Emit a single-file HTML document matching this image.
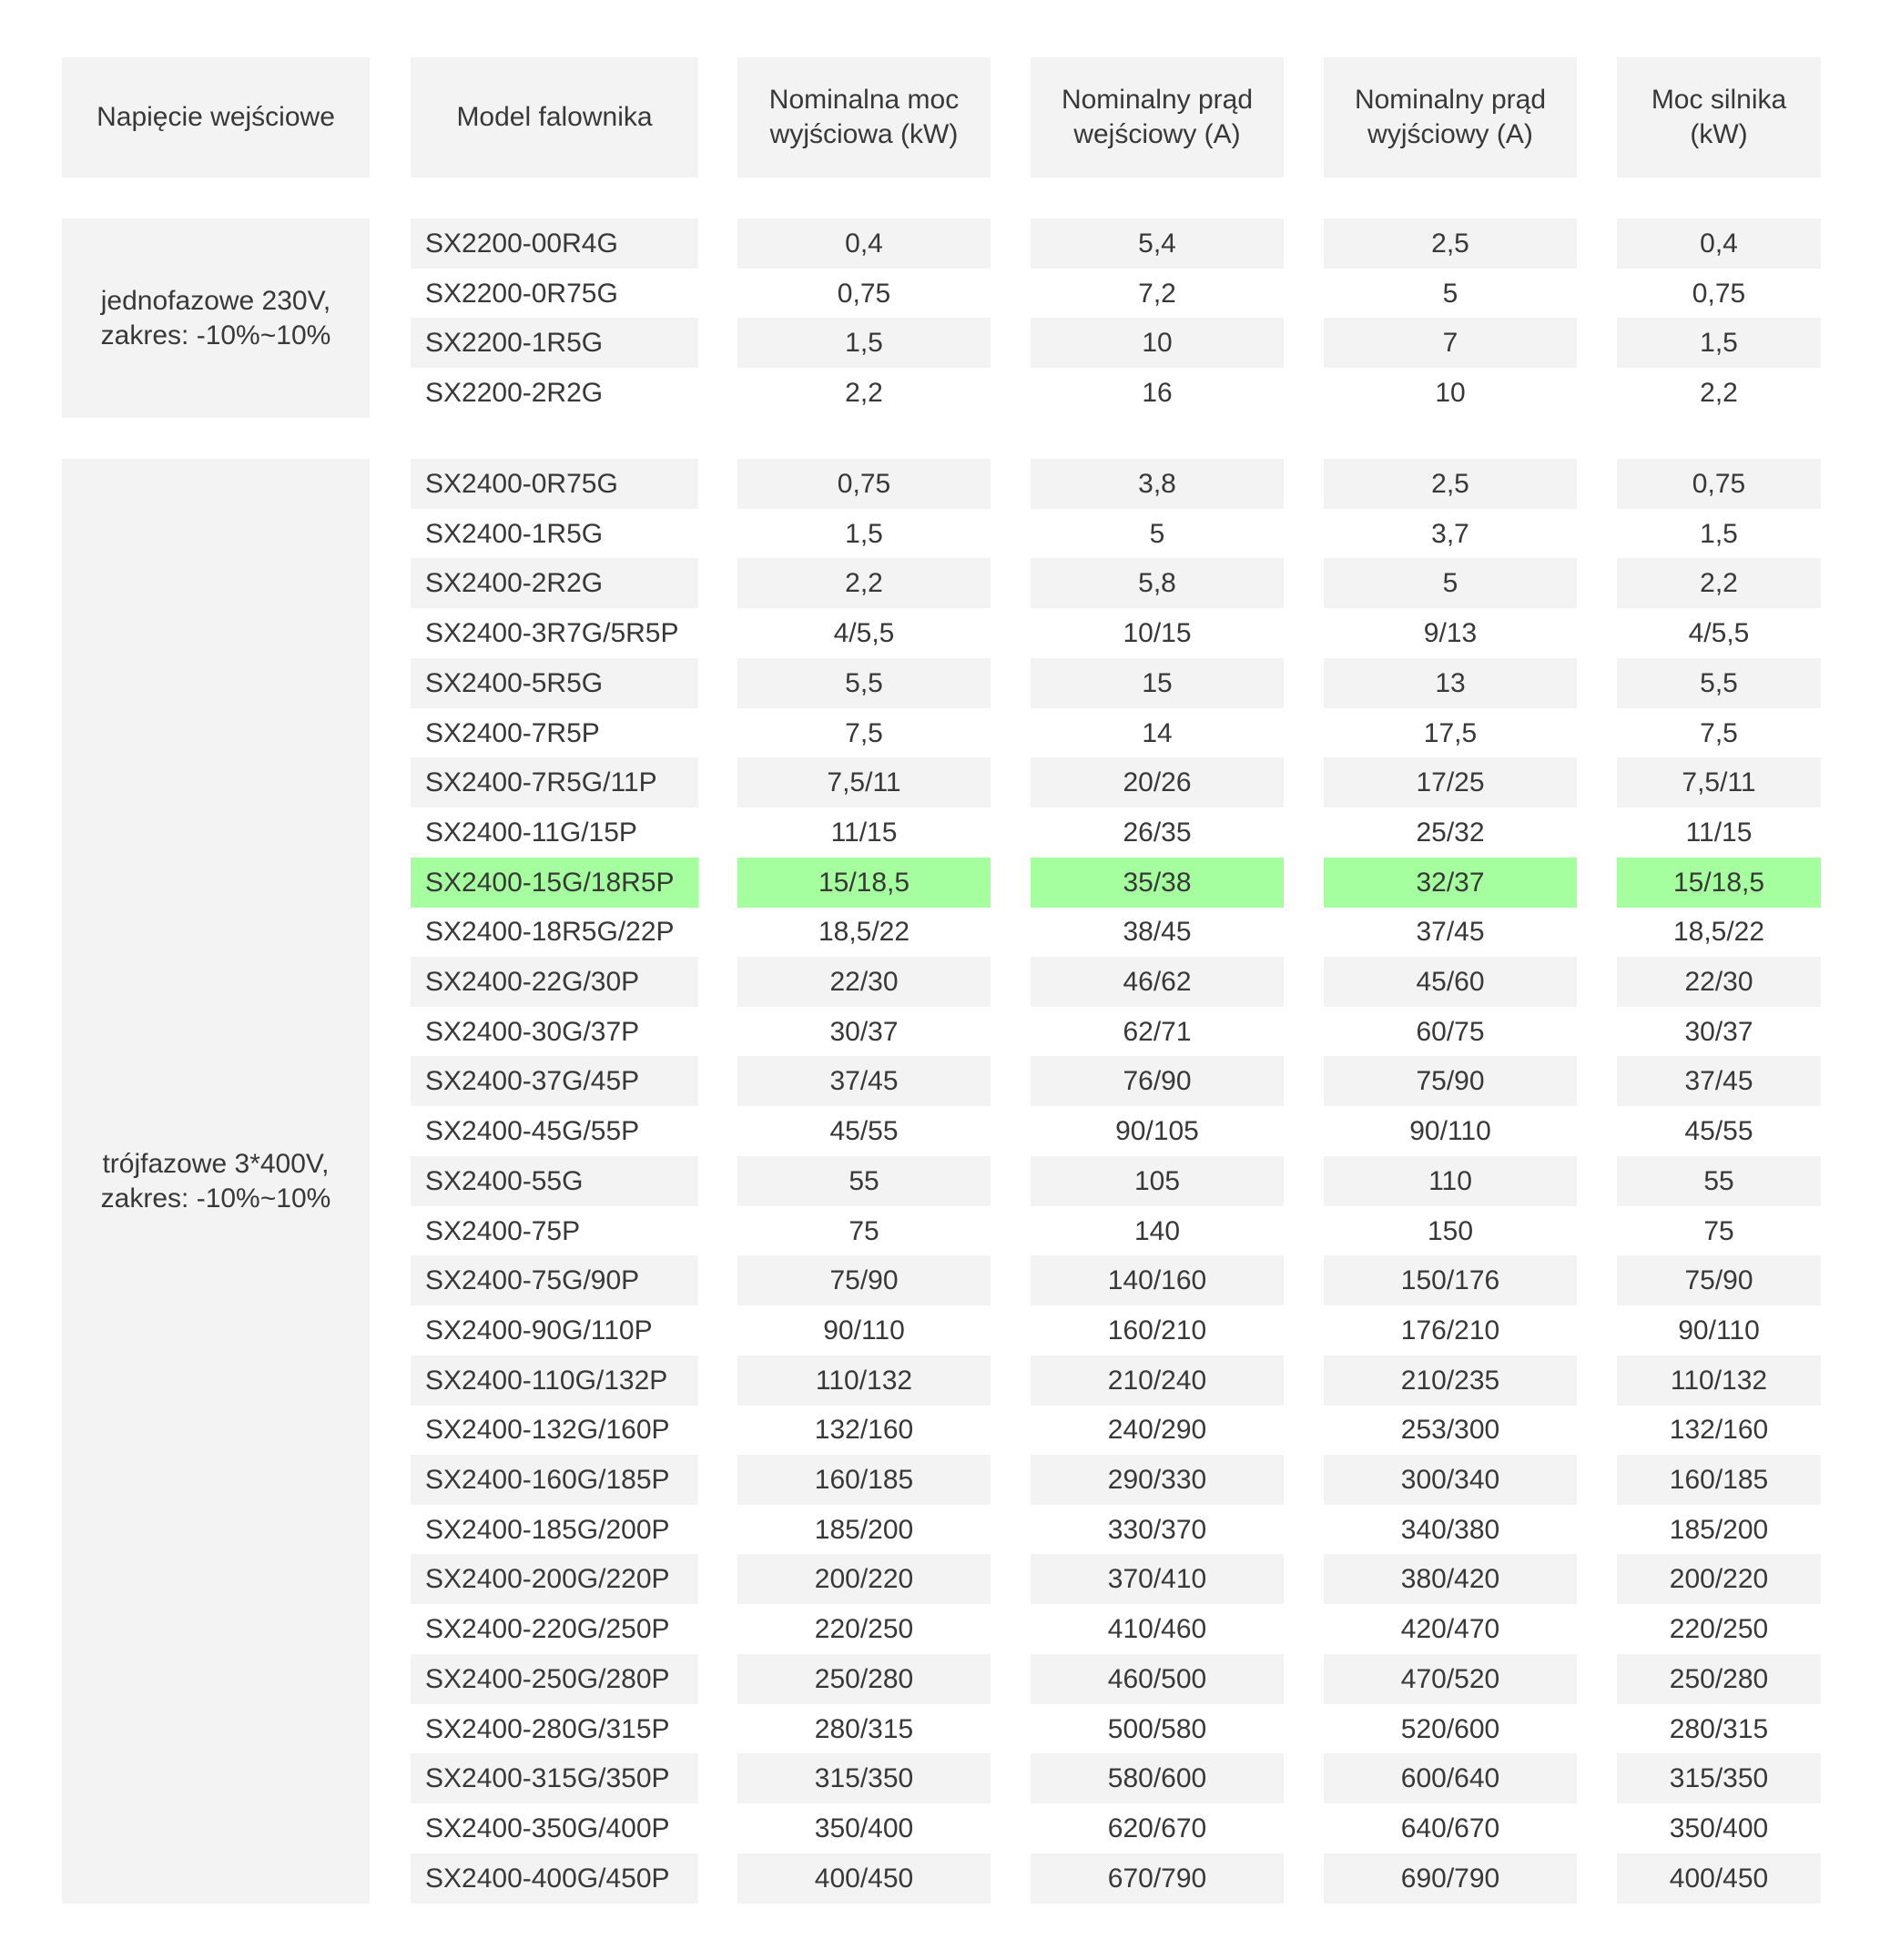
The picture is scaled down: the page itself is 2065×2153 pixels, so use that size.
<!DOCTYPE html>
<html><head><meta charset="utf-8"><style>
body{margin:0;width:2065px;height:2153px;background:#fff;position:relative;font-family:"Liberation Sans",sans-serif;color:#383838;font-size:30px;}
.c{position:absolute;display:flex;align-items:center;justify-content:center;text-align:center;box-sizing:border-box;line-height:38px;}
.r{position:absolute;left:0;width:2065px;height:55px;}
.r div{position:absolute;top:0;height:55px;display:flex;align-items:center;justify-content:center;}
.g div{background:#f3f3f3;}
.h div{background:#a6ff9e;}
.a{left:451px;width:316px;justify-content:flex-start!important;padding-left:16px;box-sizing:border-box;}
.b{left:810px;width:278px;}
.d{left:1132px;width:278px;}
.e{left:1454px;width:278px;}
.f{left:1776px;width:224px;}
.x1{left:68px;width:338px;}
.x2{left:451px;width:316px;}
.x3{left:810px;width:278px;}
.x4{left:1132px;width:278px;}
.x5{left:1454px;width:278px;}
.x6{left:1776px;width:224px;}
.hd{top:63px;height:132px;background:#f3f3f3;}
</style></head><body>
<div class="c hd x1">Napięcie wejściowe</div>
<div class="c hd x2">Model falownika</div>
<div class="c hd x3">Nominalna moc<br>wyjściowa (kW)</div>
<div class="c hd x4">Nominalny prąd<br>wejściowy (A)</div>
<div class="c hd x5">Nominalny prąd<br>wyjściowy (A)</div>
<div class="c hd x6">Moc silnika<br>(kW)</div>
<div class="c x1" style="top:240px;height:219px;background:#f3f3f3">jednofazowe 230V,<br>zakres: -10%~10%</div>
<div class="r g" style="top:240px"><div class="a">SX2200-00R4G</div><div class="b">0,4</div><div class="d">5,4</div><div class="e">2,5</div><div class="f">0,4</div></div>
<div class="r" style="top:295px"><div class="a">SX2200-0R75G</div><div class="b">0,75</div><div class="d">7,2</div><div class="e">5</div><div class="f">0,75</div></div>
<div class="r g" style="top:349px"><div class="a">SX2200-1R5G</div><div class="b">1,5</div><div class="d">10</div><div class="e">7</div><div class="f">1,5</div></div>
<div class="r" style="top:404px"><div class="a">SX2200-2R2G</div><div class="b">2,2</div><div class="d">16</div><div class="e">10</div><div class="f">2,2</div></div>
<div class="c x1" style="top:504px;height:1587px;background:#f3f3f3">trójfazowe 3*400V,<br>zakres: -10%~10%</div>
<div class="r g" style="top:504px"><div class="a">SX2400-0R75G</div><div class="b">0,75</div><div class="d">3,8</div><div class="e">2,5</div><div class="f">0,75</div></div>
<div class="r" style="top:559px"><div class="a">SX2400-1R5G</div><div class="b">1,5</div><div class="d">5</div><div class="e">3,7</div><div class="f">1,5</div></div>
<div class="r g" style="top:613px"><div class="a">SX2400-2R2G</div><div class="b">2,2</div><div class="d">5,8</div><div class="e">5</div><div class="f">2,2</div></div>
<div class="r" style="top:668px"><div class="a">SX2400-3R7G/5R5P</div><div class="b">4/5,5</div><div class="d">10/15</div><div class="e">9/13</div><div class="f">4/5,5</div></div>
<div class="r g" style="top:723px"><div class="a">SX2400-5R5G</div><div class="b">5,5</div><div class="d">15</div><div class="e">13</div><div class="f">5,5</div></div>
<div class="r" style="top:778px"><div class="a">SX2400-7R5P</div><div class="b">7,5</div><div class="d">14</div><div class="e">17,5</div><div class="f">7,5</div></div>
<div class="r g" style="top:832px"><div class="a">SX2400-7R5G/11P</div><div class="b">7,5/11</div><div class="d">20/26</div><div class="e">17/25</div><div class="f">7,5/11</div></div>
<div class="r" style="top:887px"><div class="a">SX2400-11G/15P</div><div class="b">11/15</div><div class="d">26/35</div><div class="e">25/32</div><div class="f">11/15</div></div>
<div class="r h" style="top:942px"><div class="a">SX2400-15G/18R5P</div><div class="b">15/18,5</div><div class="d">35/38</div><div class="e">32/37</div><div class="f">15/18,5</div></div>
<div class="r" style="top:996px"><div class="a">SX2400-18R5G/22P</div><div class="b">18,5/22</div><div class="d">38/45</div><div class="e">37/45</div><div class="f">18,5/22</div></div>
<div class="r g" style="top:1051px"><div class="a">SX2400-22G/30P</div><div class="b">22/30</div><div class="d">46/62</div><div class="e">45/60</div><div class="f">22/30</div></div>
<div class="r" style="top:1106px"><div class="a">SX2400-30G/37P</div><div class="b">30/37</div><div class="d">62/71</div><div class="e">60/75</div><div class="f">30/37</div></div>
<div class="r g" style="top:1160px"><div class="a">SX2400-37G/45P</div><div class="b">37/45</div><div class="d">76/90</div><div class="e">75/90</div><div class="f">37/45</div></div>
<div class="r" style="top:1215px"><div class="a">SX2400-45G/55P</div><div class="b">45/55</div><div class="d">90/105</div><div class="e">90/110</div><div class="f">45/55</div></div>
<div class="r g" style="top:1270px"><div class="a">SX2400-55G</div><div class="b">55</div><div class="d">105</div><div class="e">110</div><div class="f">55</div></div>
<div class="r" style="top:1325px"><div class="a">SX2400-75P</div><div class="b">75</div><div class="d">140</div><div class="e">150</div><div class="f">75</div></div>
<div class="r g" style="top:1379px"><div class="a">SX2400-75G/90P</div><div class="b">75/90</div><div class="d">140/160</div><div class="e">150/176</div><div class="f">75/90</div></div>
<div class="r" style="top:1434px"><div class="a">SX2400-90G/110P</div><div class="b">90/110</div><div class="d">160/210</div><div class="e">176/210</div><div class="f">90/110</div></div>
<div class="r g" style="top:1489px"><div class="a">SX2400-110G/132P</div><div class="b">110/132</div><div class="d">210/240</div><div class="e">210/235</div><div class="f">110/132</div></div>
<div class="r" style="top:1543px"><div class="a">SX2400-132G/160P</div><div class="b">132/160</div><div class="d">240/290</div><div class="e">253/300</div><div class="f">132/160</div></div>
<div class="r g" style="top:1598px"><div class="a">SX2400-160G/185P</div><div class="b">160/185</div><div class="d">290/330</div><div class="e">300/340</div><div class="f">160/185</div></div>
<div class="r" style="top:1653px"><div class="a">SX2400-185G/200P</div><div class="b">185/200</div><div class="d">330/370</div><div class="e">340/380</div><div class="f">185/200</div></div>
<div class="r g" style="top:1707px"><div class="a">SX2400-200G/220P</div><div class="b">200/220</div><div class="d">370/410</div><div class="e">380/420</div><div class="f">200/220</div></div>
<div class="r" style="top:1762px"><div class="a">SX2400-220G/250P</div><div class="b">220/250</div><div class="d">410/460</div><div class="e">420/470</div><div class="f">220/250</div></div>
<div class="r g" style="top:1817px"><div class="a">SX2400-250G/280P</div><div class="b">250/280</div><div class="d">460/500</div><div class="e">470/520</div><div class="f">250/280</div></div>
<div class="r" style="top:1872px"><div class="a">SX2400-280G/315P</div><div class="b">280/315</div><div class="d">500/580</div><div class="e">520/600</div><div class="f">280/315</div></div>
<div class="r g" style="top:1926px"><div class="a">SX2400-315G/350P</div><div class="b">315/350</div><div class="d">580/600</div><div class="e">600/640</div><div class="f">315/350</div></div>
<div class="r" style="top:1981px"><div class="a">SX2400-350G/400P</div><div class="b">350/400</div><div class="d">620/670</div><div class="e">640/670</div><div class="f">350/400</div></div>
<div class="r g" style="top:2036px"><div class="a">SX2400-400G/450P</div><div class="b">400/450</div><div class="d">670/790</div><div class="e">690/790</div><div class="f">400/450</div></div>
</body></html>
